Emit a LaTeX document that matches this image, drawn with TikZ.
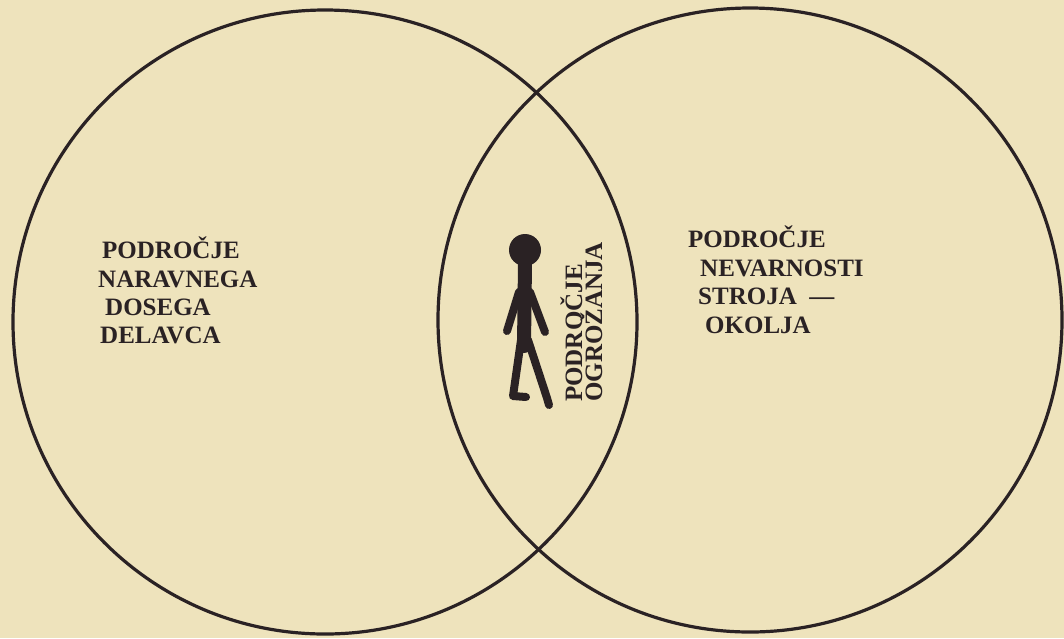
\documentclass[tikz,border=0pt]{standalone}
\usepackage{fontspec}
\setmainfont{Liberation Serif}
\definecolor{papir}{RGB}{238,227,188}
\definecolor{tus}{RGB}{42,34,36}
\tikzset{
  oznaka/.style={anchor=base west, inner sep=0pt, text=tus,
    font=\fontsize{25}{29}\selectfont\bfseries},
  ud/.style={tus, line width=8pt, line cap=round, line join=round}
}
\begin{document}
\begin{tikzpicture}[x=1pt,y=-1pt]
  % Ozadje
  \fill[papir] (0,0) rectangle (1064,638);
  \useasboundingbox (0,0) rectangle (1064,638);

  % Kroga
  \draw[tus, line width=3.2pt] (325,322) circle (312pt);
  \draw[tus, line width=3.2pt] (750,320) circle (312pt);

  % Levo podrocje
  \foreach \ime/\tx/\ty [count=\i] in {PODROČJE/102/258, NARAVNEGA/98/287,
      DOSEGA/105/315, DELAVCA/100/343}
    \node[oznaka] (levo\i) at (\tx,\ty) {\ime};

  % Desno podrocje
  \foreach \ime/\tx/\ty [count=\i] in {PODROČJE/688/247, NEVARNOSTI/700/276,
      STROJA\ \ —/698/304, OKOLJA/705/333}
    \node[oznaka] (desno\i) at (\tx,\ty) {\ime};

  % Presek
  \node[oznaka, rotate=90] (sredina1) at (582,402) {PODROČJE};
  \node[oznaka, rotate=90] (sredina2) at (602,402) {OGROŽANJA};

  % Delavec
  \fill[tus] (525,250) circle (16pt);
  \draw[ud, line width=14pt] (525,262) -- (524,346);
  \draw[ud] (519,292) -- (507,331);
  \draw[ud] (530,292) -- (545,332);
  \draw[ud] (521,340) -- (513,396) -- (526,397);
  \draw[ud] (528,340) -- (547,398) -- (549,405);
\end{tikzpicture}
\end{document}
